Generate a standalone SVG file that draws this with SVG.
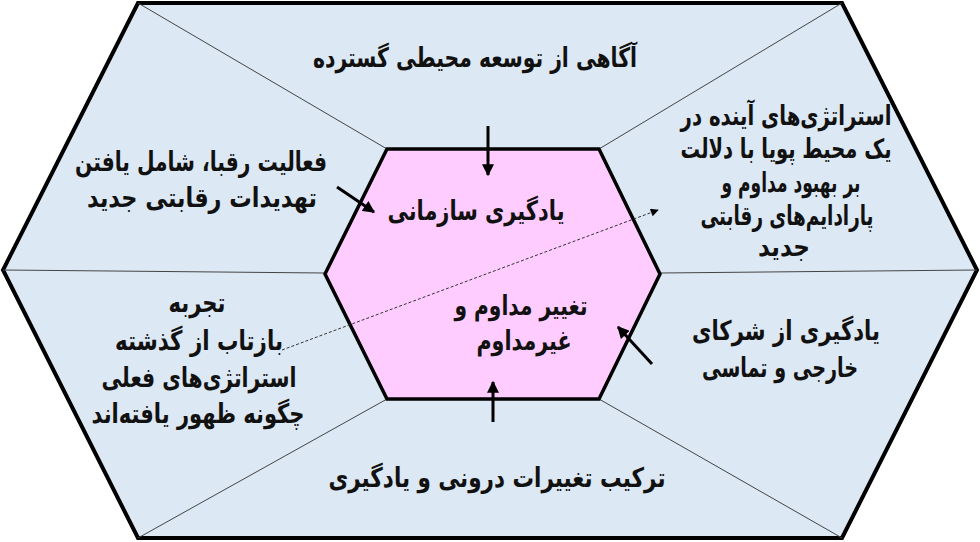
<svg xmlns="http://www.w3.org/2000/svg" width="980" height="542" viewBox="0 0 980 542">
<defs>
<style>
.t{font-family:"DejaVu Sans","Noto Sans",sans-serif;font-weight:bold;font-size:27px;fill:#111;text-anchor:middle;direction:rtl}
.div{stroke:#444;stroke-width:1;fill:none}
.arr{stroke:#000;stroke-width:3;fill:none}
</style>
<marker id="ah" viewBox="0 0 10 10" refX="9" refY="5" markerWidth="4.2" markerHeight="4" orient="auto" markerUnits="strokeWidth">
<path d="M0,0 L10,5 L0,10 z" fill="#000"/>
</marker>
<marker id="ahs" viewBox="0 0 10 10" refX="9" refY="5" markerWidth="10" markerHeight="8" orient="auto" markerUnits="strokeWidth">
<path d="M0,0 L10,5 L0,10 z" fill="#000"/>
</marker>
</defs>
<rect width="980" height="542" fill="#fff"/>
<g id="outer">
<polygon points="138,3 842,3 977,270 842,538 138,538 3,270" fill="#dce8f4" stroke="#000" stroke-width="4" stroke-linejoin="miter"/>
</g>
<g id="dividers">
<line class="div" x1="138" y1="3" x2="387" y2="149"/>
<line class="div" x1="842" y1="3" x2="599" y2="149"/>
<line class="div" x1="3" y1="270" x2="325" y2="273"/>
<line class="div" x1="977" y1="270" x2="660" y2="273"/>
<line class="div" x1="138" y1="538" x2="387" y2="399"/>
<line class="div" x1="842" y1="538" x2="599" y2="399"/>
</g>
<g id="center">
<polygon points="387,149 599,149 660,274 599,399 387,399 325,274" fill="#ffccff" stroke="#000" stroke-width="3.5"/>
<text class="t" x="476" y="220" textLength="177" lengthAdjust="spacingAndGlyphs">یادگیری سازمانی</text>
<text class="t" x="521" y="315" textLength="133" lengthAdjust="spacingAndGlyphs">تغییر مداوم و</text>
<text class="t" x="524" y="350" textLength="95" lengthAdjust="spacingAndGlyphs">غیرمداوم</text>
</g>
<g id="node-top">
<text class="t" x="475" y="67" textLength="324" lengthAdjust="spacingAndGlyphs">آگاهی از توسعه محیطی گسترده</text>
</g>
<g id="node-upper-left">
<text class="t" x="201" y="171" textLength="252" lengthAdjust="spacingAndGlyphs">فعالیت رقبا، شامل یافتن</text>
<text class="t" x="202" y="207" textLength="230" lengthAdjust="spacingAndGlyphs">تهدیدات رقابتی جدید</text>
</g>
<g id="node-upper-right">
<text class="t" x="786" y="125" textLength="211" lengthAdjust="spacingAndGlyphs">استراتژی‌های آینده در</text>
<text class="t" x="786" y="158" textLength="211" lengthAdjust="spacingAndGlyphs">یک محیط پویا با دلالت</text>
<text class="t" x="791" y="192" textLength="139" lengthAdjust="spacingAndGlyphs">بر بهبود مداوم و</text>
<text class="t" x="787" y="225" textLength="173" lengthAdjust="spacingAndGlyphs">پارادایم‌های رقابتی</text>
<text class="t" x="784" y="256" textLength="52" lengthAdjust="spacingAndGlyphs">جدید</text>
</g>
<g id="node-lower-left">
<text class="t" x="197" y="312" textLength="57" lengthAdjust="spacingAndGlyphs">تجربه</text>
<text class="t" x="199" y="350" textLength="168" lengthAdjust="spacingAndGlyphs">بازتاب از گذشته</text>
<text class="t" x="199" y="387" textLength="195" lengthAdjust="spacingAndGlyphs">استراتژی‌های فعلی</text>
<text class="t" x="198" y="423" textLength="213" lengthAdjust="spacingAndGlyphs">چگونه ظهور یافته‌اند</text>
</g>
<g id="node-lower-right">
<text class="t" x="786" y="340" textLength="188" lengthAdjust="spacingAndGlyphs">یادگیری از شرکای</text>
<text class="t" x="780" y="377" textLength="156" lengthAdjust="spacingAndGlyphs">خارجی و تماسی</text>
</g>
<g id="node-bottom">
<text class="t" x="497" y="487" textLength="337" lengthAdjust="spacingAndGlyphs">ترکیب تغییرات درونی و یادگیری</text>
</g>
<g id="connectors">
<line class="arr" x1="488" y1="126" x2="488" y2="175" marker-end="url(#ah)"/>
<line class="arr" x1="337" y1="187" x2="374" y2="212" marker-end="url(#ah)"/>
<line class="arr" x1="652" y1="364" x2="618" y2="327" marker-end="url(#ah)"/>
<line class="arr" x1="493" y1="422" x2="493" y2="382" marker-end="url(#ah)"/>
<line x1="282" y1="350" x2="658" y2="210" stroke="#333" stroke-width="1" stroke-dasharray="3,2" marker-end="url(#ahs)"/>
</g>
</svg>
